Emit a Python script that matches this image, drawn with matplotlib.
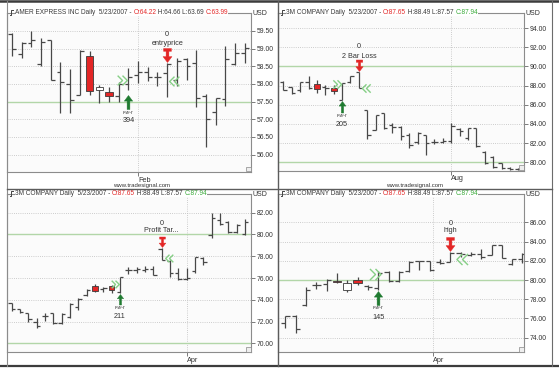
import matplotlib
matplotlib.use('Agg')
import matplotlib.pyplot as plt
import numpy as np
from matplotlib.path import Path
from matplotlib.lines import Line2D
from matplotlib.patches import Rectangle
from matplotlib.ticker import FormatStrFormatter

plt.rcParams['font.family'] = ['Liberation Sans Narrow', 'Liberation Sans', 'DejaVu Sans']

# ---------------- data ----------------
# Panel 1: AMER EXPRESS INC
p1_open = [59.40, 58.85, 59.15, 58.55, 59.25, 58.35, 58.00, 57.70, 58.80, 57.83, 57.76, 57.65, 58.00,
           58.25, 58.35, 58.20, 58.30, 58.10, 58.70, 58.60, 57.65, 57.20, 57.58, 58.55, 58.87]
p1_high = [59.43, 59.20, 59.50, 59.30, 59.25, 58.62, 58.42, 58.95, 58.93, 57.97, 57.92, 58.05, 58.45,
           58.65, 58.49, 58.35, 58.60, 58.72, 58.72, 58.95, 57.71, 57.60, 59.06, 59.15, 59.15]
p1_low = [58.80, 58.72, 59.05, 58.50, 58.12, 57.17, 57.17, 57.70, 57.70, 57.45, 57.50, 57.50, 57.83,
          58.04, 58.07, 57.93, 57.62, 57.95, 58.10, 57.35, 56.23, 56.84, 57.38, 58.54, 58.58]
p1_close = [59.00, 59.15, 59.25, 59.20, 58.12, 58.05, 57.55, 58.92, 57.80, 57.90, 57.65, 58.00, 58.20,
            58.35, 58.20, 58.20, 58.55, 58.65, 58.50, 57.60, 57.00, 57.60, 58.70, 58.87, 59.03]
p1_red = [8, 10]
p1_hollow = [9]
p1_entry = (12, 57.70)
p1_exit = (16, 58.62)
p1_chev_in = (11.3, 58.12)
p1_chev_out = (16.7, 58.09)
p1_yticks = [56.0, 56.5, 57.0, 57.5, 58.0, 58.5, 59.0, 59.5]
p1_levels = [57.5]
p1_month = (13, 'Feb')
p1_entry_text = ['r-w-r', '394']
p1_exit_text = ['0', 'entryprice']
p1_title = ['AMER EXPRESS INC Daily  5/23/2007 - ', 'O:64.22', ' H:64.66 L:63.69 ', 'C:63.99']

# Panel 2: 3M COMPANY (top right)
p2_open = [88.40, 87.85, 87.50, 88.40, 88.20, 87.85, 87.80, 86.50, 88.35, 89.40, 85.50, 83.40, 85.10, 83.90, 83.65,
           82.90, 82.10, 82.85, 82.10, 82.15, 82.25, 83.50, 82.50, 83.55, 81.10, 80.60, 79.90, 79.45, 79.30]
p2_high = [88.45, 87.90, 88.40, 89.00, 88.58, 88.06, 88.06, 88.25, 89.00, 89.45, 85.50, 84.95, 85.17, 84.13, 83.75,
           83.05, 83.20, 82.90, 82.40, 82.50, 84.05, 83.60, 83.60, 83.60, 81.15, 80.65, 79.95, 79.50, 79.40]
p2_low = [87.50, 87.10, 87.30, 87.60, 87.26, 87.02, 87.12, 86.45, 88.25, 87.75, 82.40, 83.35, 83.44, 83.03, 82.35,
          81.50, 81.95, 80.80, 81.90, 81.98, 81.98, 82.70, 82.30, 81.60, 79.80, 79.38, 79.28, 79.25, 79.25]
p2_close = [87.55, 87.25, 88.35, 87.70, 87.65, 87.80, 87.40, 88.25, 88.95, 87.80, 82.90, 84.90, 83.55, 83.70, 82.75,
            81.80, 83.05, 82.00, 82.15, 82.25, 83.80, 83.30, 83.55, 81.70, 79.90, 79.50, 79.45, 79.30, 79.35]
p2_red = [4, 6]
p2_hollow = []
p2_entry = (7, 86.40)
p2_exit = (9, 89.55)
p2_chev_in = (6.4, 88.14)
p2_chev_out = (9.8, 87.80)
p2_yticks = [80.0, 82.0, 84.0, 86.0, 88.0, 90.0, 92.0, 94.0]
p2_levels = [80.0, 90.0]
p2_month = (20, 'Aug')
p2_entry_text = ['r-w-r', '205']
p2_exit_text = ['0', '2 Bar Loss']
p2_title = ['3M COMPANY Daily  5/23/2007 - ', 'O:87.65', ' H:88.49 L:87.57 ', 'C:87.94']

# Panel 3: 3M COMPANY (bottom left)
p3_open = [73.75, 73.20, 72.75, 72.00, 72.50, 72.80, 71.85, 72.45, 73.30, 74.40, 75.25, 75.00, 75.25, 74.70, 76.75,
           76.75, 76.70, 76.80, 78.70, 77.60, 76.50, 75.95, 76.60, 77.85, 79.95, 81.30, 81.10, 80.20, 80.05]
p3_high = [73.75, 73.20, 72.80, 72.30, 72.80, 72.80, 72.75, 73.70, 74.15, 74.95, 75.45, 75.20, 75.40, 76.10, 77.00,
           76.98, 77.10, 77.10, 78.75, 77.65, 76.90, 76.95, 77.95, 77.95, 81.95, 82.00, 81.20, 81.00, 81.40]
p3_low = [73.00, 72.75, 72.00, 71.40, 72.10, 71.75, 71.80, 72.30, 73.10, 74.35, 74.68, 74.68, 74.65, 74.60, 76.40,
          76.50, 76.58, 76.27, 77.65, 76.10, 75.80, 75.80, 76.50, 77.20, 79.65, 80.85, 80.10, 80.10, 79.95]
p3_close = [73.20, 72.90, 72.20, 71.60, 72.50, 71.85, 72.70, 73.60, 74.10, 74.90, 74.85, 75.05, 74.90, 76.05, 76.75,
            76.80, 76.85, 76.30, 77.70, 76.50, 75.90, 76.00, 77.90, 77.50, 81.50, 81.00, 80.20, 80.85, 81.15]
p3_red = [10, 12]
p3_hollow = []
p3_entry = (13, 74.50)
p3_exit = (18, 78.88)
p3_chev_in = (12.4, 75.48)
p3_chev_out = (18.9, 77.81)
p3_yticks = [70.0, 72.0, 74.0, 76.0, 78.0, 80.0, 82.0]
p3_levels = [70.0, 80.0]
p3_month = (21, 'Apr')
p3_entry_text = ['r-w-r', '211']
p3_exit_text = ['0', 'Profit Tar...']
p3_title = ['3M COMPANY Daily  5/23/2007 - ', 'O:87.65', ' H:88.49 L:87.57 ', 'C:87.94']

# Panel 4: 3M COMPANY (bottom right)
p4_open = [75.50, 76.30, 77.40, 79.45, 79.60, 79.90, 78.96, 80.05, 79.35, 79.20, 80.85, 79.85, 80.90, 81.95, 81.95,
           81.90, 81.90, 82.85, 82.65, 82.75, 82.60, 83.60, 81.65, 82.15]
p4_high = [76.30, 76.35, 79.30, 79.80, 80.15, 80.70, 80.00, 80.35, 79.48, 80.90, 80.90, 80.95, 81.95, 82.00, 82.00,
           82.20, 82.95, 82.95, 82.95, 83.20, 83.65, 83.65, 82.20, 82.85]
p4_low = [75.05, 74.50, 77.30, 79.10, 78.90, 79.65, 78.80, 79.48, 78.96, 78.95, 79.80, 79.80, 80.85, 81.00, 80.90,
          81.65, 81.85, 82.40, 82.45, 82.20, 82.55, 82.25, 81.60, 81.75]
p4_close = [76.30, 74.95, 78.95, 79.50, 80.05, 79.80, 79.65, 79.65, 79.30, 80.75, 79.85, 80.85, 81.90, 81.95, 81.00,
            81.75, 82.85, 82.70, 82.70, 82.35, 83.60, 82.30, 82.15, 82.75]
p4_red = [5, 7]
p4_hollow = [6]
p4_entry = (9, 78.85)
p4_exit = (16, 83.05)
p4_chev_in = (8.66, 80.60)
p4_chev_out = (17.1, 82.16)
p4_yticks = [74.0, 76.0, 78.0, 80.0, 82.0, 84.0, 86.0]
p4_levels = [80.0]
p4_month = (14.3, 'Apr')
p4_entry_text = ['r-w-r', '145']
p4_exit_text = ['0', 'high']
p4_title = ['3M COMPANY Daily  5/23/2007 - ', 'O:87.65', ' H:88.49 L:87.57 ', 'C:87.94']

# ---------------- layout / style ----------------
W, H = 559, 368
fig = plt.figure(figsize=(W / 100, H / 100), dpi=100)
fig.patch.set_facecolor('white')

BAR = '#484848'
RED = '#e32626'
GREEN_ARROW = '#1f7a30'
CHEV = '#86cf86'
LEVEL = '#b2d6a8'
GRID = '#bdbdbd'
TFS = 4.7


def fx(x):
    return x / W


def fy(y):
    return 1 - y / H


def add_ax(x0, y0, x1, y1):
    return fig.add_axes([fx(x0), fy(y1), (x1 - x0) / W, (y1 - y0) / H])


def fig_line(xs, ys, **kw):
    fig.add_artist(Line2D([fx(v) for v in xs], [fy(v) for v in ys], transform=fig.transFigure, **kw))


UP = Path([(0, 0), (0.3, -0.4), (0.1, -0.4), (0.1, -1.0), (-0.1, -1.0), (-0.1, -0.4), (-0.3, -0.4), (0, 0)],
          closed=True)
DOWN = Path([(0, 0), (0.32, 0.42), (0.1, 0.42), (0.1, 0.8), (0.28, 0.8), (0.28, 1.0), (-0.28, 1.0),
             (-0.28, 0.8), (-0.1, 0.8), (-0.1, 0.42), (-0.32, 0.42), (0, 0)], closed=True)
CHEV_R = Path([(-0.5, 0.5), (0, 0), (-0.5, -0.5), (0.0, 0.5), (0.5, 0), (0.0, -0.5)],
              [Path.MOVETO, Path.LINETO, Path.LINETO, Path.MOVETO, Path.LINETO, Path.LINETO])
CHEV_L = Path([(0.5, 0.5), (0, 0), (0.5, -0.5), (0.0, 0.5), (-0.5, 0), (0.0, -0.5)],
              [Path.MOVETO, Path.LINETO, Path.LINETO, Path.MOVETO, Path.LINETO, Path.LINETO])

panels = [
    dict(box=(7, 12.5, 251, 172), xlim=(-0.515, 24.64), ylim=(55.51, 60.02),
         o=p1_open, h=p1_high, l=p1_low, c=p1_close, red=p1_red, hollow=p1_hollow,
         entry=p1_entry, exit=p1_exit, cin=p1_chev_in, cout=p1_chev_out, yticks=p1_yticks,
         levels=p1_levels, month=p1_month, etext=p1_entry_text, xtext=p1_exit_text, title=p1_title,
         ccol=RED, arrow_h=14, eoff=(18, 26), xoff=(19, 28), usd=(252.5, 13.3), www=(141.5, 185.5),
         chev=7, cw=0.75),
    dict(box=(278, 12.5, 524, 170.5), xlim=(-0.631, 28.655), ylim=(79.15, 95.62),
         o=p2_open, h=p2_high, l=p2_low, c=p2_close, red=p2_red, hollow=p2_hollow,
         entry=p2_entry, exit=p2_exit, cin=p2_chev_in, cout=p2_chev_out, yticks=p2_yticks,
         levels=p2_levels, month=p2_month, etext=p2_entry_text, xtext=p2_exit_text, title=p2_title,
         ccol='#3aaa3a', arrow_h=11.5, eoff=(15, 23.3), xoff=(14.7, 24), usd=(525.5, 13.3), www=(414.7, 185.5),
         chev=6, cw=0.68),
    dict(box=(7, 193.5, 251, 352), xlim=(-0.564, 28.73), ylim=(69.21, 83.76),
         o=p3_open, h=p3_high, l=p3_low, c=p3_close, red=p3_red, hollow=p3_hollow,
         entry=p3_entry, exit=p3_exit, cin=p3_chev_in, cout=p3_chev_out, yticks=p3_yticks,
         levels=p3_levels, month=p3_month, etext=p3_entry_text, xtext=p3_exit_text, title=p3_title,
         ccol='#3aaa3a', arrow_h=10.5, eoff=(13.4, 21.7), xoff=(16, 23.4), usd=(252.5, 195), www=None,
         chev=5.5, cw=0.66),
    dict(box=(278, 193.5, 524, 352), xlim=(-0.728, 23.155), ylim=(72.51, 89.0),
         o=p4_open, h=p4_high, l=p4_low, c=p4_close, red=p4_red, hollow=p4_hollow,
         entry=p4_entry, exit=p4_exit, cin=p4_chev_in, cout=p4_chev_out, yticks=p4_yticks,
         levels=p4_levels, month=p4_month, etext=p4_entry_text, xtext=p4_exit_text, title=p4_title,
         ccol='#3aaa3a', arrow_h=14, eoff=(16.7, 26), xoff=(19.7, 27.4), usd=(525.5, 195), www=None,
         chev=8, cw=0.8),
]

for P in panels:
    x0, y0, x1, y1 = P['box']
    ax = add_ax(x0, y0, x1, y1)
    ax.set_facecolor('#fbfbfb')
    ax.set_xlim(*P['xlim'])
    ax.set_ylim(*P['ylim'])
    for s in ax.spines.values():
        s.set_color('#8c8c8c')
        s.set_linewidth(0.8)

    o = np.array(P['o']); h = np.array(P['h']); l = np.array(P['l']); c = np.array(P['c'])
    x = np.arange(len(o), dtype=float)
    cand = set(P['red']) | set(P['hollow'])
    plain = np.array([i for i in range(len(o)) if i not in cand])

    # grid and level lines
    for yv in P['yticks']:
        if yv not in P['levels']:
            ax.axhline(yv, color=GRID, lw=0.6, ls=(0, (1, 1.6)), zorder=0.5)
    ax.axvline(P['month'][0], color=GRID, lw=0.6, ls=(0, (1, 1.6)), zorder=0.5)
    for lv in P['levels']:
        ax.axhline(lv, color=LEVEL, lw=1.0, zorder=0.6)

    # OHLC bars
    ax.vlines(x[plain], l[plain], h[plain], color=BAR, lw=0.9, zorder=2)
    ax.hlines(o[plain], x[plain] - 0.4, x[plain], color=BAR, lw=0.9, zorder=2)
    ax.hlines(c[plain], x[plain], x[plain] + 0.4, color=BAR, lw=0.9, zorder=2)
    # candles
    for idx_list, fill in ((P['red'], RED), (P['hollow'], 'white')):
        if len(idx_list) == 0:
            continue
        ii = np.array(idx_list)
        ax.vlines(x[ii], l[ii], h[ii], color=BAR, lw=0.9, zorder=2)
        ax.bar(x[ii], c[ii] - o[ii], bottom=o[ii], width=P['cw'], color=fill,
               edgecolor='#3a3a3a', linewidth=0.6, zorder=3)

    # chevrons
    ax.plot([P['cin'][0]], [P['cin'][1]], marker=CHEV_R, ms=P['chev'], mfc='none', mec=CHEV, mew=1.0,
            ls='none', zorder=4)
    ax.plot([P['cout'][0]], [P['cout'][1]], marker=CHEV_L, ms=P['chev'], mfc='none', mec=CHEV, mew=1.0,
            ls='none', zorder=4)

    # arrows
    ms = 2 * P['arrow_h'] * 0.72
    ex, ey = P['entry']
    ax.plot([ex], [ey], marker=UP, ms=ms, color=GREEN_ARROW, mec=GREEN_ARROW, mew=0.3, ls='none', zorder=5)
    ax.annotate(P['etext'][0], xy=(ex, ey), xytext=(0, -P['eoff'][0] * 0.72), textcoords='offset points',
                ha='center', va='center', fontsize=3.8, color='#333333', style='italic')
    ax.annotate(P['etext'][1], xy=(ex, ey), xytext=(0, -P['eoff'][1] * 0.72), textcoords='offset points',
                ha='center', va='center', fontsize=5.2, color='#333333')
    rx, ry = P['exit']
    ax.plot([rx], [ry], marker=DOWN, ms=ms, color=RED, mec=RED, mew=0.3, ls='none', zorder=5)
    ax.annotate(P['xtext'][1], xy=(rx, ry), xytext=(0, P['xoff'][0] * 0.72), textcoords='offset points',
                ha='center', va='center', fontsize=5.2, color='#333333')
    ax.annotate(P['xtext'][0], xy=(rx, ry), xytext=(0, P['xoff'][1] * 0.72), textcoords='offset points',
                ha='center', va='center', fontsize=5.2, color='#333333')

    # axes ticks
    ax.yaxis.tick_right()
    ax.set_yticks(P['yticks'])
    ax.yaxis.set_major_formatter(FormatStrFormatter('%.2f'))
    ax.tick_params(axis='y', length=3, width=0.6, color='#666666', labelsize=4.9, pad=1, labelcolor='#333333')
    ax.set_xticks([P['month'][0]])
    ax.set_xticklabels([P['month'][1]])
    ax.tick_params(axis='x', length=3, width=0.6, color='#666666', labelsize=5.2, pad=0.5, labelcolor='#333333')
    for lbl in ax.get_xticklabels():
        lbl.set_ha('left')

    # title (multi-coloured), white background hides the top frame line behind it
    tcols = ['#3a3a3a', RED, '#3a3a3a', P['ccol']]
    prev = ax.text(-0.0, 1.0, P['title'][0], transform=ax.transAxes, fontsize=TFS, color=tcols[0],
                   ha='left', va='center', zorder=6,
                   bbox=dict(boxstyle='square,pad=0.0', fc='white', ec='none'))
    prev.set_position((8.0 / (x1 - x0), 1.0))
    for s, col in zip(P['title'][1:], tcols[1:]):
        prev = ax.annotate(s, xy=(1, 0), xycoords=prev, xytext=(0, 0), textcoords='offset points',
                           ha='left', va='bottom', fontsize=TFS, color=col, zorder=6,
                           bbox=dict(boxstyle='square,pad=0.0', fc='white', ec='none'))
    # small bar-chart icon before the title
    ix = x0 + 4
    fig_line([ix - 1.5, ix, ix, ix + 1.5], [y0 + 2.5, y0 + 2.5, y0 - 2.5, y0 - 2.5], color='#444444', lw=0.7)

    fig.text(fx(P['usd'][0]), fy(P['usd'][1]), 'USD', fontsize=5.0, color='#333333', ha='left', va='center')
    if P['www'] is not None:
        fig.text(fx(P['www'][0]), fy(P['www'][1]), 'www.tradesignal.com', fontsize=4.3, color='#333333',
                 ha='center', va='center')
    # resize grip in the corner
    fig.add_artist(Rectangle((fx(x1 - 5), fy(y1 - 0.5)), 4.5 / W, 4.5 / H, transform=fig.transFigure,
                             fc='#eeeeee', ec='#888888', lw=0.5))

# frames / dividers
fig_line([0, W], [1, 1], color='#3c3c3c', lw=1.8)
fig_line([0, W], [365.5, 365.5], color='#3c3c3c', lw=1.6)
fig_line([7, 7], [1, 366], color='#8c8c8c', lw=0.8)
fig_line([552, 552], [1, 366], color='#6c6c6c', lw=0.8)
fig_line([277.5, 277.5], [1, 366], color='#5c5c5c', lw=1.0)
fig_line([7, 552], [188.5, 188.5], color='#5c5c5c', lw=1.0)

fig.savefig('out.png', dpi=100, facecolor='white')
